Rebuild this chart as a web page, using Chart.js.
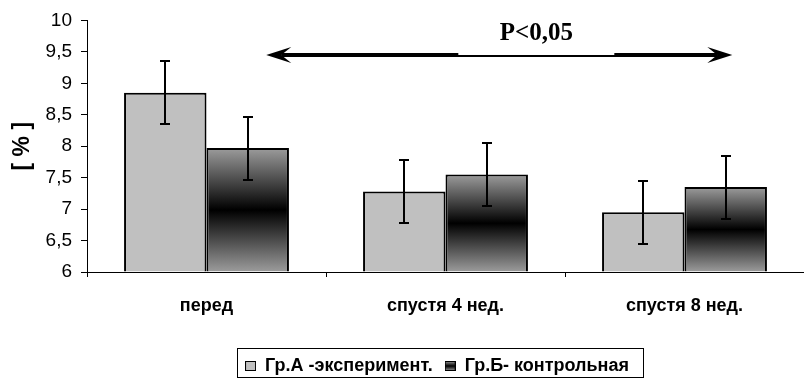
<!DOCTYPE html>
<html>
<head>
<meta charset="utf-8">
<script src="https://cdn.jsdelivr.net/npm/chart.js@4.4.0/dist/chart.umd.min.js"></script>
<style>
  html, body { margin: 0; padding: 0; background: #fff; }
  #wrap { width: 804px; height: 379px; }
</style>
</head>
<body>
<div id="wrap"><canvas id="chart"></canvas></div>
<script>
// data
const categories = ["перед", "спустя 4 нед.", "спустя 8 нед."];
const groupA = [8.85, 7.28, 6.95];
const groupB = [7.97, 7.55, 7.35];
const errorA = [0.5, 0.5, 0.5];
const errorB = [0.5, 0.5, 0.5];
const seriesNames = ["Гр.А -эксперимент.", "Гр.Б- контрольная"];
const yMin = 6, yMax = 10, yStep = 0.5;

// significance arrow (category units / value units)
const pLabel = "P<0,05";
const arrowFrom = 0.25, arrowTo = 2.2, arrowLevel = 9.45, pLabelAt = 1.38;

const SANS = "'Liberation Sans', Arial, sans-serif";
const SERIF = "'Liberation Serif', 'Times New Roman', serif";

function darkGradient(g, top, bottom) {
  const grad = g.createLinearGradient(0, top, 0, bottom);
  grad.addColorStop(0, "#9c9c9c");
  grad.addColorStop(0.5, "#000000");
  grad.addColorStop(1, "#9c9c9c");
  return grad;
}

function darkFill(ctx) {
  const chart = ctx.chart;
  const y = chart.scales.y;
  if (!y || ctx.type !== "data") return "#888";
  const top = y.getPixelForValue(ctx.raw);
  const bottom = y.getPixelForValue(yMin);
  if (!isFinite(top) || !isFinite(bottom) || bottom - top < 1) return "#888";
  return darkGradient(chart.ctx, top, bottom);
}

function swatch(kind) {
  const c = document.createElement("canvas");
  c.width = 11; c.height = 10;
  const g = c.getContext("2d");
  g.fillStyle = kind === "dark" ? darkGradient(g, 0, 10) : "#c0c0c0";
  g.fillRect(0, 0, 11, 10);
  g.strokeStyle = "#000";
  g.lineWidth = 1;
  g.strokeRect(0.5, 0.5, 10, 9);
  return c;
}
const swatches = [swatch("light"), swatch("dark")];

const errorBars = {
  id: "errorBars",
  afterDatasetsDraw(chart) {
    const { ctx } = chart;
    const y = chart.scales.y;
    const errs = [errorA, errorB];
    ctx.save();
    ctx.strokeStyle = "#000";
    ctx.lineWidth = 2;
    chart.data.datasets.forEach((ds, i) => {
      chart.getDatasetMeta(i).data.forEach((bar, j) => {
        const v = ds.data[j], e = errs[i][j];
        const hi = Math.round(y.getPixelForValue(v + e));
        const lo = Math.round(y.getPixelForValue(v - e));
        const x = Math.round(bar.x);
        ctx.beginPath();
        ctx.moveTo(x, hi); ctx.lineTo(x, lo);
        ctx.moveTo(x - 5, hi); ctx.lineTo(x + 5, hi);
        ctx.moveTo(x - 5, lo); ctx.lineTo(x + 5, lo);
        ctx.stroke();
      });
    });
    ctx.restore();
  }
};

function arrowHead(ctx, tipX, y, dir) {
  ctx.beginPath();
  ctx.moveTo(tipX, y);
  ctx.lineTo(tipX + dir * 25, y - 8);
  ctx.lineTo(tipX + dir * 15, y);
  ctx.lineTo(tipX + dir * 25, y + 8);
  ctx.closePath();
  ctx.fill();
}

const pArrow = {
  id: "pArrow",
  afterDraw(chart) {
    const { ctx } = chart;
    const x = chart.scales.x, y = chart.scales.y;
    const x1 = x.getPixelForValue(arrowFrom);
    const x2 = x.getPixelForValue(arrowTo);
    const yy = y.getPixelForValue(arrowLevel);
    const cx = x.getPixelForValue(pLabelAt);
    ctx.save();
    ctx.fillStyle = "#000";
    ctx.strokeStyle = "#000";
    ctx.lineWidth = 4;
    ctx.beginPath();
    ctx.moveTo(x1 + 15, yy);
    ctx.lineTo(x2 - 15, yy);
    ctx.stroke();
    arrowHead(ctx, x1, yy, 1);
    arrowHead(ctx, x2, yy, -1);
    // label box hides the upper half of the line
    ctx.fillStyle = "#fff";
    ctx.fillRect(cx - 78, yy - 34, 156, 34);
    ctx.fillStyle = "#000";
    ctx.font = "bold 25px " + SERIF;
    ctx.textAlign = "center";
    ctx.textBaseline = "middle";
    ctx.fillText(pLabel, cx, yy - 21);
    ctx.restore();
  }
};

// legend sits right of centre in the original, with a thin frame round it
const LEGEND_SHIFT = 35;
const legendFrame = {
  id: "legendFrame",
  afterLayout(chart) {
    if (!chart.legend) return;
    chart.legend.left += LEGEND_SHIFT;
    chart.legend.right += LEGEND_SHIFT;
  },
  afterDraw(chart) {
    const boxes = chart.legend && chart.legend.legendHitBoxes;
    if (!boxes || !boxes.length) return;
    const left = Math.min(...boxes.map(b => b.left));
    const right = Math.max(...boxes.map(b => b.left + b.width));
    const top = Math.min(...boxes.map(b => b.top));
    const bottom = Math.max(...boxes.map(b => b.top + b.height));
    const { ctx } = chart;
    ctx.save();
    ctx.strokeStyle = "#000";
    ctx.lineWidth = 1;
    ctx.strokeRect(Math.round(left) - 7.5, Math.round(top) - 8.5, Math.round(right - left) + 22, Math.round(bottom - top) + 11);
    ctx.restore();
  }
};

new Chart(document.getElementById("chart"), {
  type: "bar",
  data: {
    labels: categories,
    datasets: [
      {
        label: seriesNames[0],
        data: groupA,
        backgroundColor: "#c0c0c0",
        borderColor: "#000",
        borderWidth: 2,
        base: yMin
      },
      {
        label: seriesNames[1],
        data: groupB,
        backgroundColor: darkFill,
        borderColor: "#000",
        borderWidth: 2,
        base: yMin
      }
    ]
  },
  options: {
    responsive: true,
    maintainAspectRatio: false,
    animation: false,
    categoryPercentage: 0.69,
    barPercentage: 1.0,
    layout: { padding: { top: 19, right: 0, left: 0, bottom: -6 } },
    plugins: {
      tooltip: { enabled: false },
      legend: {
        position: "bottom",
        labels: {
          usePointStyle: true,
          boxWidth: 11,
          color: "#000",
          font: { family: SANS, size: 18, weight: "bold" },
          padding: 12,
          generateLabels: (chart) => chart.data.datasets.map((ds, i) => ({
            text: ds.label,
            pointStyle: swatches[i],
            datasetIndex: i,
            hidden: false,
            lineWidth: 0,
            fontColor: "#000"
          }))
        }
      }
    },
    scales: {
      x: {
        afterFit: (scale) => { scale.height = 73; },
        grid: { drawOnChartArea: false, tickLength: 5, tickColor: "#000", offset: true },
        border: { color: "#000", width: 1 },
        ticks: {
          color: "#000",
          padding: 18,
          maxRotation: 0,
          font: { family: SANS, size: 18, weight: "bold" }
        }
      },
      y: {
        min: yMin,
        max: yMax,
        afterFit: (scale) => { scale.width = 87; },
        grid: { drawOnChartArea: false, tickLength: 6, tickColor: "#000" },
        border: { color: "#000", width: 1 },
        title: {
          display: true,
          text: "[ % ]",
          color: "#000",
          font: { family: SANS, size: 23, weight: "bold" },
          padding: { top: 9, bottom: 0 }
        },
        ticks: {
          stepSize: yStep,
          color: "#000",
          padding: 9,
          font: { family: SANS, size: 19 },
          callback: (v) => String(v).replace(".", ",")
        }
      }
    }
  },
  plugins: [errorBars, pArrow, legendFrame]
});
</script>
</body>
</html>
